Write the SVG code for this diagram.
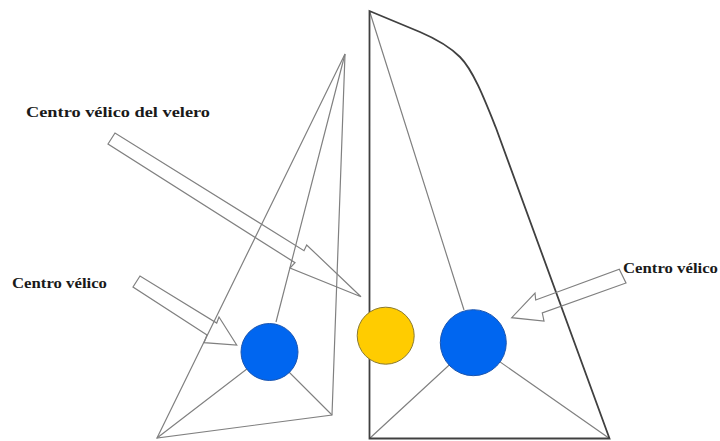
<svg xmlns="http://www.w3.org/2000/svg" width="720" height="441" viewBox="0 0 720 441">
<style>
.thin{fill:none;stroke:#808080;stroke-width:1.200;stroke-linejoin:miter}
.arrow{fill:none;stroke:#808080;stroke-width:1.200}
.sail{fill:none;stroke:#404040;stroke-width:1.800}
.dot{stroke-width:1}
text{font-family:"Liberation Serif","Times New Roman",serif;font-weight:bold;font-size:15px;fill:#1a1a1a}
</style>
<rect width="720" height="441" fill="#fff"/>
<g id="left-sail">
<path class="thin" d="M345 54L157 438L332 415Z"/>
<path class="thin" d="M345 54L276 322M157 438L269 352L332 415"/>
</g>
<g id="right-sail">
<path class="thin" d="M369.500 11L464 310M369.500 438.500L473 343L609.500 438.500"/>
<path class="sail" d="M369.500 11L369.500 438.500L609.500 438.500L496 128C484 98 473 70 460 57C450 47 434 38 420 32Z"/>
</g>
<g id="connectors">
<path class="arrow" d="M115 133L108 144L295 262.700L290 268L361 296.700L306.700 245L304 250.700Z"/>
<path class="arrow" d="M140 276L133 287L207 335L204 342.700L236.700 345L219 317L216.700 323Z"/>
<path class="arrow" d="M619.300 269.300L626 283L542.300 313L544 321L511.700 317.700L535 293L535.700 300Z"/>
</g>
<g id="node-left-center"><circle class="dot" cx="269.500" cy="352" r="28.500" fill="#0066f0" stroke="#1a55b0"/></g>
<g id="node-boat-center"><circle class="dot" cx="385.700" cy="335.700" r="28.500" fill="#ffcc00" stroke="#8a7a30"/></g>
<g id="node-right-center"><circle class="dot" cx="473.300" cy="342.700" r="33" fill="#0066f0" stroke="#1a55b0"/></g>
<g id="labels">
<text x="26" y="117" textLength="184" lengthAdjust="spacingAndGlyphs">Centro vélico del velero</text>
<text x="12" y="288" textLength="95" lengthAdjust="spacingAndGlyphs">Centro vélico</text>
<text x="623" y="273" textLength="95" lengthAdjust="spacingAndGlyphs">Centro vélico</text>
</g>
</svg>
